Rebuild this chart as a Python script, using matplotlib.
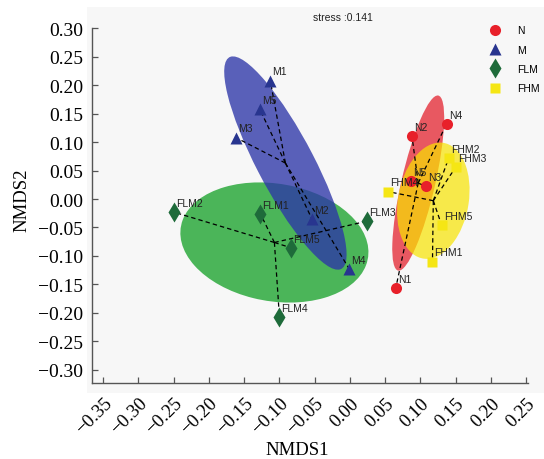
import numpy as np
import matplotlib
matplotlib.use("Agg")
import matplotlib.pyplot as plt
from matplotlib.patches import Ellipse
from matplotlib.lines import Line2D

# ---- data ----
groups = ["N", "M", "FLM", "FHM"]
N_labels = ["N1", "N2", "N3", "N4", "N5"]
N_x = [0.065, 0.088, 0.108, 0.137, 0.086]
N_y = [-0.156, 0.110, 0.022, 0.132, 0.032]

M_labels = ["M1", "M2", "M3", "M4", "M5"]
M_x = [-0.113, -0.054, -0.162, -0.001, -0.128]
M_y = [0.208, -0.035, 0.108, -0.123, 0.158]

FLM_labels = ["FLM1", "FLM2", "FLM3", "FLM4", "FLM5"]
FLM_x = [-0.127, -0.250, 0.024, -0.100, -0.083]
FLM_y = [-0.026, -0.023, -0.039, -0.208, -0.086]

FHM_labels = ["FHM1", "FHM2", "FHM3", "FHM4", "FHM5"]
FHM_x = [0.117, 0.140, 0.150, 0.054, 0.130]
FHM_y = [-0.110, 0.072, 0.056, 0.013, -0.046]

stress = 0.141
x_ticks = [-0.35, -0.30, -0.25, -0.20, -0.15, -0.10, -0.05, 0.00, 0.05, 0.10, 0.15, 0.20, 0.25]
y_ticks = [-0.30, -0.25, -0.20, -0.15, -0.10, -0.05, 0.00, 0.05, 0.10, 0.15, 0.20, 0.25, 0.30]

# ---- styles ----
styles = {
    "N":   dict(marker="o", ms=8.0, pc="#e8202a", ec="#e5303c", ea=0.80, z=2),
    "M":   dict(marker="^", ms=9.0, pc="#28358f", ec="#2d35a8", ea=0.78, z=1.5),
    "FLM": dict(marker="d", ms=10.0, pc="#1e6b3a", ec="#3cb04c", ea=0.92, z=1),
    "FHM": dict(marker="s", ms=7.0, pc="#f5e614", ec="#f8e400", ea=0.70, z=2.5),
}
data = {
    "N": (N_x, N_y, N_labels),
    "M": (M_x, M_y, M_labels),
    "FLM": (FLM_x, FLM_y, FLM_labels),
    "FHM": (FHM_x, FHM_y, FHM_labels),
}

W, H = 544, 460
fig = plt.figure(figsize=(W / 100, H / 100), dpi=100)
fig.patch.set_facecolor("white")

ax = fig.add_axes([87 / W, 1 - 394 / H, 1 - 87 / W, (394 - 8) / H])
ax.set_facecolor("#f7f7f7")
ax.set_xlim(-0.3730, 0.2752)
ax.set_ylim(-0.3409, 0.3374)

x_left, y_bot = -0.3655, -0.324
for s in ["top", "right"]:
    ax.spines[s].set_visible(False)
ax.spines["left"].set_position(("data", x_left))
ax.spines["bottom"].set_position(("data", y_bot))
ax.spines["left"].set_bounds(y_bot, 0.30)
ax.spines["bottom"].set_bounds(x_left, 0.2525)
for s in ["left", "bottom"]:
    ax.spines[s].set_color("#555555")
    ax.spines[s].set_linewidth(1.0)

ax.set_xticks(x_ticks)
ax.set_yticks(y_ticks)
ax.tick_params(direction="in", length=4, width=0.9, color="#555555")
serif = "Liberation Serif"
ax.set_xticklabels([f"{t:.2f}".replace("-", "\u2212") for t in x_ticks],
                   fontfamily=serif, fontsize=13.5, rotation=45,
                   ha="right", va="top", rotation_mode="anchor")
ax.set_yticklabels([f"{t:.2f}".replace("-", "\u2212") for t in y_ticks],
                   fontfamily=serif, fontsize=14)
ax.tick_params(axis="x", pad=8)
ax.tick_params(axis="y", pad=6.5)

fig.text(297 / W, 1 - 451 / H, "NMDS1", fontfamily=serif, fontsize=13.5,
         ha="center", va="center")
fig.text(22 / W, 1 - 200 / H, "NMDS2", fontfamily=serif, fontsize=13.5,
         ha="center", va="center", rotation=90)

# ellipses (standard error, 99% confidence) and spiders
scale = np.sqrt(-2 * np.log(1 - 0.99))
for g in ["FLM", "M", "N", "FHM"]:
    xs, ys, _ = data[g]
    xs, ys = np.asarray(xs), np.asarray(ys)
    st = styles[g]
    cx, cy = xs.mean(), ys.mean()
    cov = np.cov(xs, ys) / len(xs)
    vals, vecs = np.linalg.eigh(cov)
    width = 2 * scale * np.sqrt(vals[1])
    height = 2 * scale * np.sqrt(vals[0])
    angle = np.degrees(np.arctan2(vecs[1, 1], vecs[0, 1]))
    ax.add_patch(Ellipse((cx, cy), width, height, angle=angle,
                         facecolor=st["ec"], alpha=st["ea"], edgecolor="none",
                         zorder=st["z"]))

for g in groups:
    xs, ys, _ = data[g]
    cx, cy = np.mean(xs), np.mean(ys)
    for x, y in zip(xs, ys):
        ax.plot([cx, x], [cy, y], color="black", lw=0.9, ls=(0, (3.5, 2.5)),
                zorder=4)

for g in groups:
    xs, ys, labs = data[g]
    st = styles[g]
    ax.plot(xs, ys, ls="none", marker=st["marker"], ms=st["ms"],
            mfc=st["pc"], mec="none", zorder=5)
    for x, y, lab in zip(xs, ys, labs):
        ax.annotate(lab, (x, y), xytext=(1.5, 3), textcoords="offset points",
                    fontsize=7.5, fontfamily="Liberation Sans", color="#222222",
                    ha="left", va="bottom", zorder=6)

fig.text(343 / W, 1 - 18 / H, f"stress :{stress}", fontsize=7.5,
         fontfamily="Liberation Sans", ha="center", va="center", color="#222222")

# legend
handles = [Line2D([], [], ls="none", marker=styles[g]["marker"],
                  ms=styles[g]["ms"], mfc=styles[g]["pc"], mec="none")
           for g in groups]
leg = fig.legend(handles, groups, loc="upper left",
                 bbox_to_anchor=(484 / W, 1 - 21 / H), frameon=False,
                 prop={"family": "Liberation Sans", "size": 7.5},
                 handlelength=1.2, handletextpad=1.5, labelspacing=0.9,
                 borderpad=0)

fig.savefig("out.png", dpi=100)
